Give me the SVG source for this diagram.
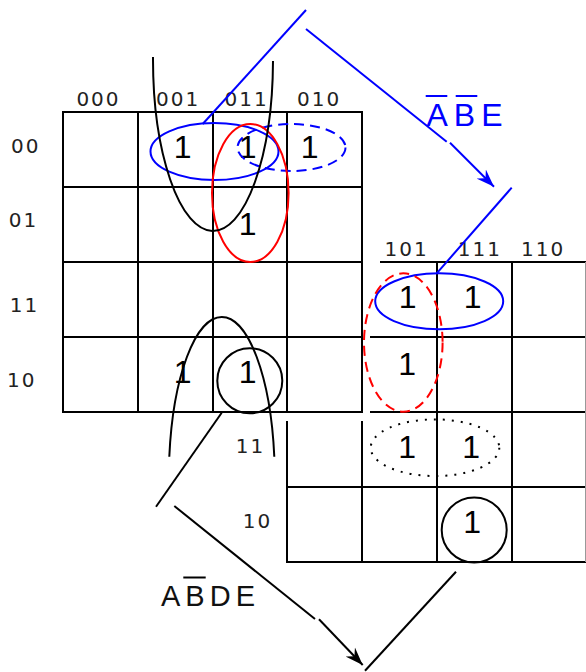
<svg xmlns="http://www.w3.org/2000/svg" width="586" height="672" viewBox="0 0 586 672">
<style>
.grid{stroke:#000;stroke-width:2;fill:none;stroke-linecap:square}
.hdr{font-family:"DejaVu Sans",sans-serif;font-size:20px;fill:#222;letter-spacing:2px}
.one{font-family:"Liberation Sans",Arial,sans-serif;font-size:32px;fill:#000}
.lbl{font-family:"Liberation Sans",Arial,sans-serif}
.blue{stroke:#0000ff;stroke-width:2;fill:none}
.red{stroke:#ff0000;stroke-width:2;fill:none}
.blk{stroke:#000;stroke-width:2;fill:none}
</style>
<defs>
<marker id="ahB" viewBox="-18 -7 19 14" markerWidth="19" markerHeight="14" refX="0" refY="0" orient="auto" markerUnits="userSpaceOnUse">
<path d="M0,0 L-18,-6.5 L-12,0 L-18,6.5 Z" fill="#0000ff"/>
</marker>
<marker id="ahK" viewBox="-18 -7 19 14" markerWidth="19" markerHeight="14" refX="0" refY="0" orient="auto" markerUnits="userSpaceOnUse">
<path d="M0,0 L-18,-6.5 L-12,0 L-18,6.5 Z" fill="#000"/>
</marker>
</defs>
<rect width="586" height="672" fill="#fff"/>

<g id="map-left">
<path class="grid" d="M63,112H362M63,187H362M63,262H362M63,337H362M63,412H362M63,112V412M138,112V412M213,112V412M287,112V412M362,112V412"/>
<text class="hdr" x="76.4" y="106">000</text>
<text class="hdr" x="156.1" y="106">001</text>
<text class="hdr" x="224.5" y="106">011</text>
<text class="hdr" x="297" y="106">010</text>
<text class="hdr" x="11" y="153.3">00</text>
<text class="hdr" x="8.7" y="226.7">01</text>
<text class="hdr" x="9.8" y="312">11</text>
<text class="hdr" x="7.1" y="387.3">10</text>
<text class="one" x="173.8" y="158.3">1</text>
<text class="one" x="238.8" y="158.3">1</text>
<text class="one" x="300.8" y="158.3">1</text>
<text class="one" x="238.8" y="235">1</text>
<text class="one" x="173.8" y="383">1</text>
<text class="one" x="238.8" y="383">1</text>
</g>

<g id="map-right">
<path class="grid" d="M381,262H586M371,337H586M371,412H586M287,487H586M287,562H586M287,422V562M362,422V562M437,262V562M512,262V562"/>
<line x1="585.5" y1="262" x2="585.5" y2="562" stroke="#999" stroke-width="1"/>
<text class="hdr" x="384.5" y="255.7">101</text>
<text class="hdr" x="457.8" y="255.7">111</text>
<text class="hdr" x="521.1" y="255.7">110</text>
<text class="hdr" x="235.8" y="452.7">11</text>
<text class="hdr" x="242.7" y="527.7">10</text>
<text class="one" x="398.8" y="308">1</text>
<text class="one" x="463.8" y="308">1</text>
<text class="one" x="398.3" y="375">1</text>
<text class="one" x="398.3" y="458">1</text>
<text class="one" x="462.3" y="458">1</text>
<text class="one" x="463.3" y="533">1</text>
</g>

<g id="groups">
<ellipse class="blue" cx="214.5" cy="151.5" rx="64" ry="28.5"/>
<ellipse class="blue" cx="291.5" cy="147.5" rx="54" ry="23.5" stroke-dasharray="10 6"/>
<ellipse class="red" cx="250.3" cy="193" rx="38.3" ry="69"/>
<path class="blk" d="M153,57 A60,172 0 0 0 273,61"/>
<path class="blk" d="M169.3,456.7 A53,162 0 0 1 274.3,456.7"/>
<circle class="blk" cx="249.8" cy="380.8" r="32.5"/>
<ellipse class="blue" cx="439.2" cy="301.3" rx="64" ry="28"/>
<ellipse class="red" cx="403.3" cy="342.5" rx="39.3" ry="69.2" stroke-dasharray="10 6"/>
<ellipse class="blk" cx="435" cy="447.7" rx="64.3" ry="28.3" stroke-dasharray="2 7"/>
<circle class="blk" cx="474.2" cy="530" r="32.5"/>
</g>

<g id="connectors">
<line class="blue" x1="202.7" y1="124" x2="306" y2="10"/>
<line class="blue" x1="306" y1="29" x2="446.7" y2="141.7"/>
<line class="blue" x1="450" y1="142.7" x2="494" y2="186.7" marker-end="url(#ahB)"/>
<line class="blue" x1="511.7" y1="187.7" x2="436.7" y2="273.3"/>
<line class="blk" x1="221.7" y1="412.7" x2="156" y2="506.7"/>
<line class="blk" x1="174.3" y1="506" x2="315" y2="619"/>
<line class="blk" x1="319" y1="619.3" x2="362.7" y2="665" marker-end="url(#ahK)"/>
<line class="blk" x1="365" y1="670.7" x2="456" y2="571.7"/>
</g>

<g id="label-ABE">
<text class="lbl" x="426.5" y="126" font-size="32" fill="#0000ff" letter-spacing="6">ABE</text>
<line class="blue" x1="425.7" y1="96" x2="447.3" y2="96"/>
<line class="blue" x1="455.7" y1="96" x2="477.3" y2="96"/>
</g>

<g id="label-ABDE">
<text class="lbl" x="161" y="605.7" font-size="29" fill="#111" letter-spacing="5">ABDE</text>
<line class="blk" x1="183.3" y1="577.5" x2="205.7" y2="577.5"/>
</g>
</svg>
